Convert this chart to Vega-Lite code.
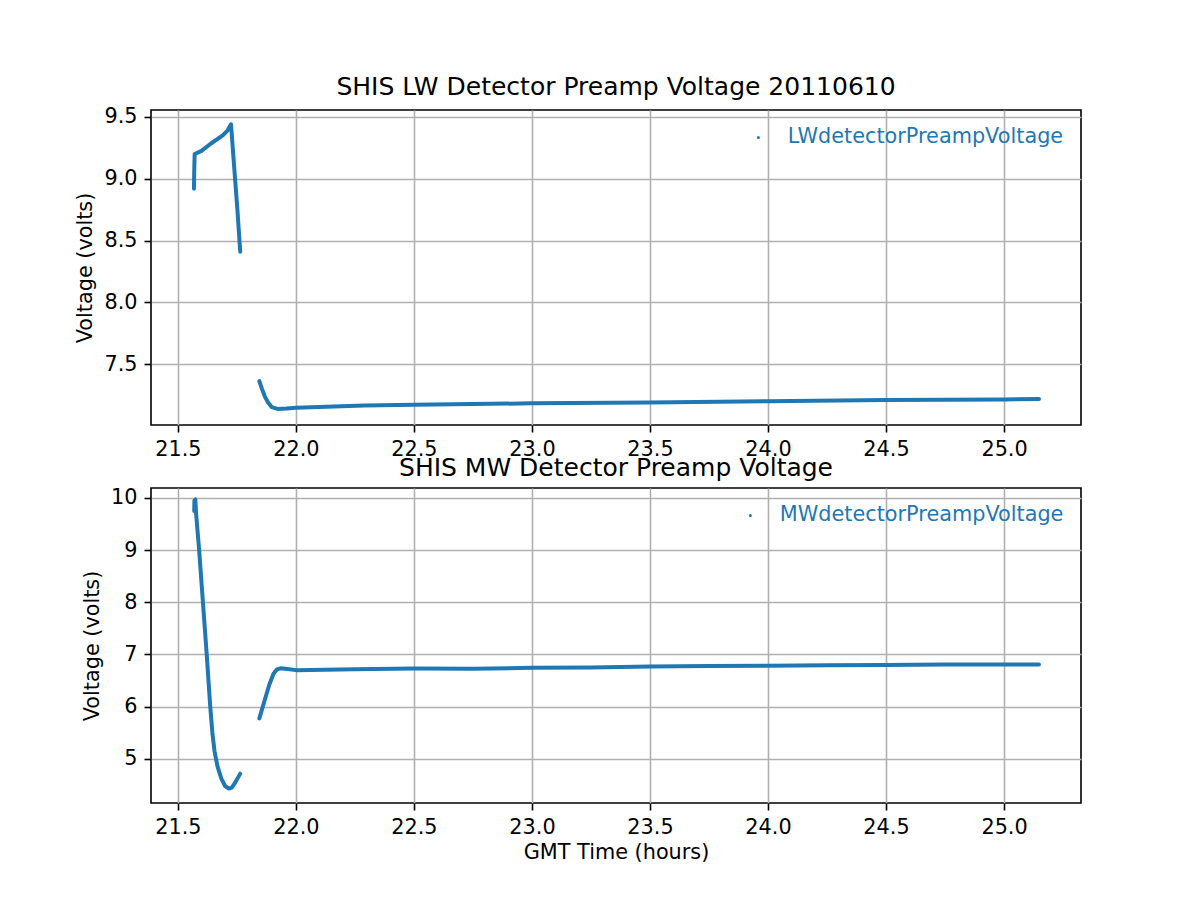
{
  "$schema": "https://vega.github.io/schema/vega-lite/v6.json",
  "background": "white",
  "padding": {"left": 74, "top": 74, "right": 10, "bottom": 10},
  "bounds": "flush",
  "spacing": 63,
  "config": {
    "font": "DejaVu Sans",
    "view": {"stroke": "black", "strokeWidth": 1.6},
    "axis": {
      "domain": false,
      "grid": true,
      "gridColor": "#b0b0b0",
      "gridWidth": 1.6,
      "tickColor": "black",
      "tickWidth": 1.6,
      "tickSize": 7,
      "labelPadding": 7,
      "labelFont": "DejaVu Sans",
      "labelFontSize": 20.8,
      "labelColor": "black",
      "titleFont": "DejaVu Sans",
      "titleFontSize": 20.8,
      "titleFontWeight": "normal",
      "titleColor": "black"
    },
    "title": {"font": "DejaVu Sans", "fontSize": 25, "fontWeight": "normal", "color": "black", "offset": 6, "anchor": "middle"},
    "legend": {
      "orient": "top-right",
      "offset": 17,
      "padding": 0,
      "labelFont": "DejaVu Sans",
      "labelFontSize": 20.8,
      "labelColor": "#1f77b4",
      "labelLimit": 500,
      "labelOffset": 19,
      "symbolType": "circle",
      "symbolSize": 9,
      "symbolFillColor": "#1f77b4",
      "symbolStrokeWidth": 0,
      "title": null
    }
  },
  "data": {
    "values": [
      {"panel": "LW", "series": "LWdetectorPreampVoltage", "seg": 1, "t": 21.568, "v": 8.92},
      {"panel": "LW", "series": "LWdetectorPreampVoltage", "seg": 1, "t": 21.569, "v": 9.05},
      {"panel": "LW", "series": "LWdetectorPreampVoltage", "seg": 1, "t": 21.571, "v": 9.20},
      {"panel": "LW", "series": "LWdetectorPreampVoltage", "seg": 1, "t": 21.60, "v": 9.225},
      {"panel": "LW", "series": "LWdetectorPreampVoltage", "seg": 1, "t": 21.64, "v": 9.285},
      {"panel": "LW", "series": "LWdetectorPreampVoltage", "seg": 1, "t": 21.69, "v": 9.35},
      {"panel": "LW", "series": "LWdetectorPreampVoltage", "seg": 1, "t": 21.71, "v": 9.39},
      {"panel": "LW", "series": "LWdetectorPreampVoltage", "seg": 1, "t": 21.725, "v": 9.44},
      {"panel": "LW", "series": "LWdetectorPreampVoltage", "seg": 1, "t": 21.739, "v": 9.08},
      {"panel": "LW", "series": "LWdetectorPreampVoltage", "seg": 1, "t": 21.752, "v": 8.75},
      {"panel": "LW", "series": "LWdetectorPreampVoltage", "seg": 1, "t": 21.764, "v": 8.41},
      {"panel": "LW", "series": "LWdetectorPreampVoltage", "seg": 2, "t": 21.845, "v": 7.363},
      {"panel": "LW", "series": "LWdetectorPreampVoltage", "seg": 2, "t": 21.856, "v": 7.30},
      {"panel": "LW", "series": "LWdetectorPreampVoltage", "seg": 2, "t": 21.868, "v": 7.24},
      {"panel": "LW", "series": "LWdetectorPreampVoltage", "seg": 2, "t": 21.882, "v": 7.19},
      {"panel": "LW", "series": "LWdetectorPreampVoltage", "seg": 2, "t": 21.898, "v": 7.152},
      {"panel": "LW", "series": "LWdetectorPreampVoltage", "seg": 2, "t": 21.922, "v": 7.138},
      {"panel": "LW", "series": "LWdetectorPreampVoltage", "seg": 2, "t": 21.96, "v": 7.142},
      {"panel": "LW", "series": "LWdetectorPreampVoltage", "seg": 2, "t": 22.0, "v": 7.148},
      {"panel": "LW", "series": "LWdetectorPreampVoltage", "seg": 2, "t": 22.29, "v": 7.165},
      {"panel": "LW", "series": "LWdetectorPreampVoltage", "seg": 2, "t": 22.5, "v": 7.172},
      {"panel": "LW", "series": "LWdetectorPreampVoltage", "seg": 2, "t": 23.0, "v": 7.183},
      {"panel": "LW", "series": "LWdetectorPreampVoltage", "seg": 2, "t": 23.5, "v": 7.19},
      {"panel": "LW", "series": "LWdetectorPreampVoltage", "seg": 2, "t": 24.0, "v": 7.20},
      {"panel": "LW", "series": "LWdetectorPreampVoltage", "seg": 2, "t": 24.5, "v": 7.21},
      {"panel": "LW", "series": "LWdetectorPreampVoltage", "seg": 2, "t": 25.0, "v": 7.215},
      {"panel": "LW", "series": "LWdetectorPreampVoltage", "seg": 2, "t": 25.148, "v": 7.218},
      {"panel": "MW", "series": "MWdetectorPreampVoltage", "seg": 1, "t": 21.569, "v": 9.75},
      {"panel": "MW", "series": "MWdetectorPreampVoltage", "seg": 1, "t": 21.570, "v": 9.95},
      {"panel": "MW", "series": "MWdetectorPreampVoltage", "seg": 1, "t": 21.574, "v": 9.97},
      {"panel": "MW", "series": "MWdetectorPreampVoltage", "seg": 1, "t": 21.577, "v": 9.70},
      {"panel": "MW", "series": "MWdetectorPreampVoltage", "seg": 1, "t": 21.590, "v": 9.0},
      {"panel": "MW", "series": "MWdetectorPreampVoltage", "seg": 1, "t": 21.606, "v": 8.0},
      {"panel": "MW", "series": "MWdetectorPreampVoltage", "seg": 1, "t": 21.622, "v": 7.0},
      {"panel": "MW", "series": "MWdetectorPreampVoltage", "seg": 1, "t": 21.637, "v": 6.0},
      {"panel": "MW", "series": "MWdetectorPreampVoltage", "seg": 1, "t": 21.646, "v": 5.5},
      {"panel": "MW", "series": "MWdetectorPreampVoltage", "seg": 1, "t": 21.655, "v": 5.15},
      {"panel": "MW", "series": "MWdetectorPreampVoltage", "seg": 1, "t": 21.668, "v": 4.85},
      {"panel": "MW", "series": "MWdetectorPreampVoltage", "seg": 1, "t": 21.684, "v": 4.62},
      {"panel": "MW", "series": "MWdetectorPreampVoltage", "seg": 1, "t": 21.700, "v": 4.48},
      {"panel": "MW", "series": "MWdetectorPreampVoltage", "seg": 1, "t": 21.716, "v": 4.43},
      {"panel": "MW", "series": "MWdetectorPreampVoltage", "seg": 1, "t": 21.728, "v": 4.45},
      {"panel": "MW", "series": "MWdetectorPreampVoltage", "seg": 1, "t": 21.742, "v": 4.54},
      {"panel": "MW", "series": "MWdetectorPreampVoltage", "seg": 1, "t": 21.764, "v": 4.717},
      {"panel": "MW", "series": "MWdetectorPreampVoltage", "seg": 2, "t": 21.845, "v": 5.775},
      {"panel": "MW", "series": "MWdetectorPreampVoltage", "seg": 2, "t": 21.866, "v": 6.10},
      {"panel": "MW", "series": "MWdetectorPreampVoltage", "seg": 2, "t": 21.887, "v": 6.42},
      {"panel": "MW", "series": "MWdetectorPreampVoltage", "seg": 2, "t": 21.905, "v": 6.63},
      {"panel": "MW", "series": "MWdetectorPreampVoltage", "seg": 2, "t": 21.920, "v": 6.715},
      {"panel": "MW", "series": "MWdetectorPreampVoltage", "seg": 2, "t": 21.935, "v": 6.735},
      {"panel": "MW", "series": "MWdetectorPreampVoltage", "seg": 2, "t": 21.964, "v": 6.72},
      {"panel": "MW", "series": "MWdetectorPreampVoltage", "seg": 2, "t": 22.0, "v": 6.70},
      {"panel": "MW", "series": "MWdetectorPreampVoltage", "seg": 2, "t": 22.25, "v": 6.715},
      {"panel": "MW", "series": "MWdetectorPreampVoltage", "seg": 2, "t": 22.5, "v": 6.73},
      {"panel": "MW", "series": "MWdetectorPreampVoltage", "seg": 2, "t": 22.75, "v": 6.725},
      {"panel": "MW", "series": "MWdetectorPreampVoltage", "seg": 2, "t": 23.0, "v": 6.745},
      {"panel": "MW", "series": "MWdetectorPreampVoltage", "seg": 2, "t": 23.25, "v": 6.75},
      {"panel": "MW", "series": "MWdetectorPreampVoltage", "seg": 2, "t": 23.5, "v": 6.77},
      {"panel": "MW", "series": "MWdetectorPreampVoltage", "seg": 2, "t": 23.75, "v": 6.78},
      {"panel": "MW", "series": "MWdetectorPreampVoltage", "seg": 2, "t": 24.0, "v": 6.785},
      {"panel": "MW", "series": "MWdetectorPreampVoltage", "seg": 2, "t": 24.25, "v": 6.795},
      {"panel": "MW", "series": "MWdetectorPreampVoltage", "seg": 2, "t": 24.5, "v": 6.80},
      {"panel": "MW", "series": "MWdetectorPreampVoltage", "seg": 2, "t": 24.75, "v": 6.81},
      {"panel": "MW", "series": "MWdetectorPreampVoltage", "seg": 2, "t": 25.0, "v": 6.81},
      {"panel": "MW", "series": "MWdetectorPreampVoltage", "seg": 2, "t": 25.148, "v": 6.81}
    ]
  },
  "resolve": {"scale": {"color": "independent", "y": "independent"}},
  "vconcat": [
    {
      "width": 930,
      "height": 315,
      "title": "SHIS LW Detector Preamp Voltage 20110610",
      "transform": [{"filter": "datum.panel === 'LW'"}],
      "mark": {"type": "line", "strokeWidth": 4, "strokeCap": "round", "strokeJoin": "round"},
      "encoding": {
        "x": {"field": "t", "type": "quantitative", "scale": {"domain": [21.386, 25.326], "nice": false, "zero": false},
              "axis": {"title": null, "values": [21.5, 22.0, 22.5, 23.0, 23.5, 24.0, 24.5, 25.0], "format": ".1f"}},
        "y": {"field": "v", "type": "quantitative", "scale": {"domain": [7.008, 9.556], "nice": false, "zero": false},
              "axis": {"title": "Voltage (volts)", "values": [7.5, 8.0, 8.5, 9.0, 9.5], "format": ".1f", "titlePadding": 8}},
        "color": {"field": "series", "type": "nominal", "scale": {"range": ["#1f77b4"]}},
        "detail": {"field": "seg", "type": "nominal"}
      }
    },
    {
      "width": 930,
      "height": 315,
      "title": "SHIS MW Detector Preamp Voltage",
      "transform": [{"filter": "datum.panel === 'MW'"}],
      "mark": {"type": "line", "strokeWidth": 4, "strokeCap": "round", "strokeJoin": "round"},
      "encoding": {
        "x": {"field": "t", "type": "quantitative", "scale": {"domain": [21.386, 25.326], "nice": false, "zero": false},
              "axis": {"title": "GMT Time (hours)", "values": [21.5, 22.0, 22.5, 23.0, 23.5, 24.0, 24.5, 25.0], "format": ".1f", "titlePadding": 6}},
        "y": {"field": "v", "type": "quantitative", "scale": {"domain": [4.154, 10.19], "nice": false, "zero": false},
              "axis": {"title": "Voltage (volts)", "values": [5, 6, 7, 8, 9, 10], "format": "d", "titlePadding": 8}},
        "color": {"field": "series", "type": "nominal", "scale": {"range": ["#1f77b4"]}},
        "detail": {"field": "seg", "type": "nominal"}
      }
    }
  ]
}
